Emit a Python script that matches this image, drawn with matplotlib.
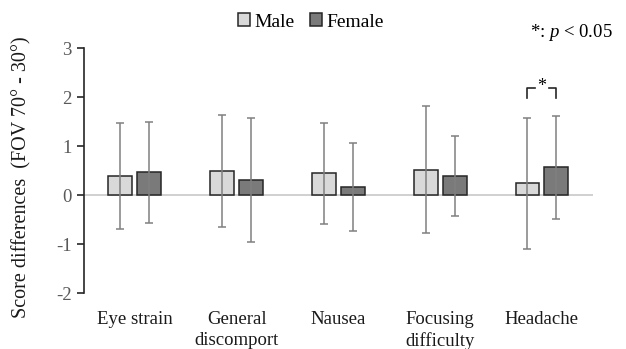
import matplotlib.pyplot as plt
import numpy as np

plt.rcParams['font.family'] = ['Liberation Serif', 'DejaVu Serif']
plt.rcParams['mathtext.fontset'] = 'custom'
plt.rcParams['mathtext.rm'] = 'Liberation Serif'
plt.rcParams['mathtext.it'] = 'Liberation Serif:italic'
plt.rcParams['axes.unicode_minus'] = False

categories = ['Eye strain', 'General\ndiscomport', 'Nausea', 'Focusing\ndifficulty', 'Headache']
male_mean = [0.39, 0.49, 0.45, 0.52, 0.24]
male_sd = [1.08, 1.14, 1.03, 1.30, 1.33]
female_mean = [0.47, 0.31, 0.16, 0.39, 0.57]
female_sd = [1.03, 1.26, 0.90, 0.81, 1.05]
sig_index = 4  # Headache, p < 0.05

x = np.arange(len(categories))
w = 0.235
off = 0.142

fig = plt.figure(figsize=(6.26, 3.49), dpi=100)
ax = fig.add_axes([0.134, 0.160, 0.813, 0.702])

err_kw = dict(ecolor='#808080', elinewidth=1.1, capsize=3, capthick=1.1)
ax.bar(x - off, male_mean, w, yerr=male_sd, color='#d9d9d9', edgecolor='#262626',
       linewidth=1.1, error_kw=err_kw, label='Male', zorder=2)
ax.bar(x + off, female_mean, w, yerr=female_sd, color='#7a7a7a', edgecolor='#262626',
       linewidth=1.1, error_kw=err_kw, label='Female', zorder=2)

ax.axhline(0, color='#c8c8c8', linewidth=1.2, zorder=1)

ax.set_xlim(-0.5, len(categories) - 0.5)
ax.set_ylim(-2, 3)
ax.set_yticks([-2, -1, 0, 1, 2, 3])
for s in ['top', 'right', 'bottom']:
    ax.spines[s].set_visible(False)
ax.spines['left'].set_linewidth(1.2)
ax.spines['left'].set_color('#262626')
ax.tick_params(axis='y', direction='out', length=5, width=1.2, labelsize=13.5,
               color='#262626', labelcolor='#595959', pad=4)
ax.set_xticks(x)
ax.set_xticklabels(categories, fontsize=13.5, linespacing=1.3, color='#1a1a1a')
ax.tick_params(axis='x', length=0, pad=13)
fig.text(22 / 626, 1 - 177 / 349, 'Score differences  (FOV 70\u00b0 - 30\u00b0)',
         rotation=90, ha='center', va='center', fontsize=14.5, color='#1a1a1a')

# significance bracket for headache
x1, x2 = sig_index - off, sig_index + off
yb, yt = 1.99, 2.19
ax.plot([x1, x1, x1 + 0.07], [yb, yt, yt], color='#262626', linewidth=1.2)
ax.plot([x2 - 0.07, x2, x2], [yt, yt, yb], color='#262626', linewidth=1.2)
ax.text(sig_index, yt + 0.02, '*', ha='center', va='center', fontsize=13)

fig.legend(loc='center', bbox_to_anchor=(0.497, 0.937), ncol=2, frameon=False,
           fontsize=14, handlelength=0.6, handleheight=0.6, handletextpad=0.25,
           columnspacing=0.8)
fig.text(0.978, 0.907, '*: $p$ < 0.05', ha='right', va='center', fontsize=13.5)

fig.savefig('out.png', dpi=100)
